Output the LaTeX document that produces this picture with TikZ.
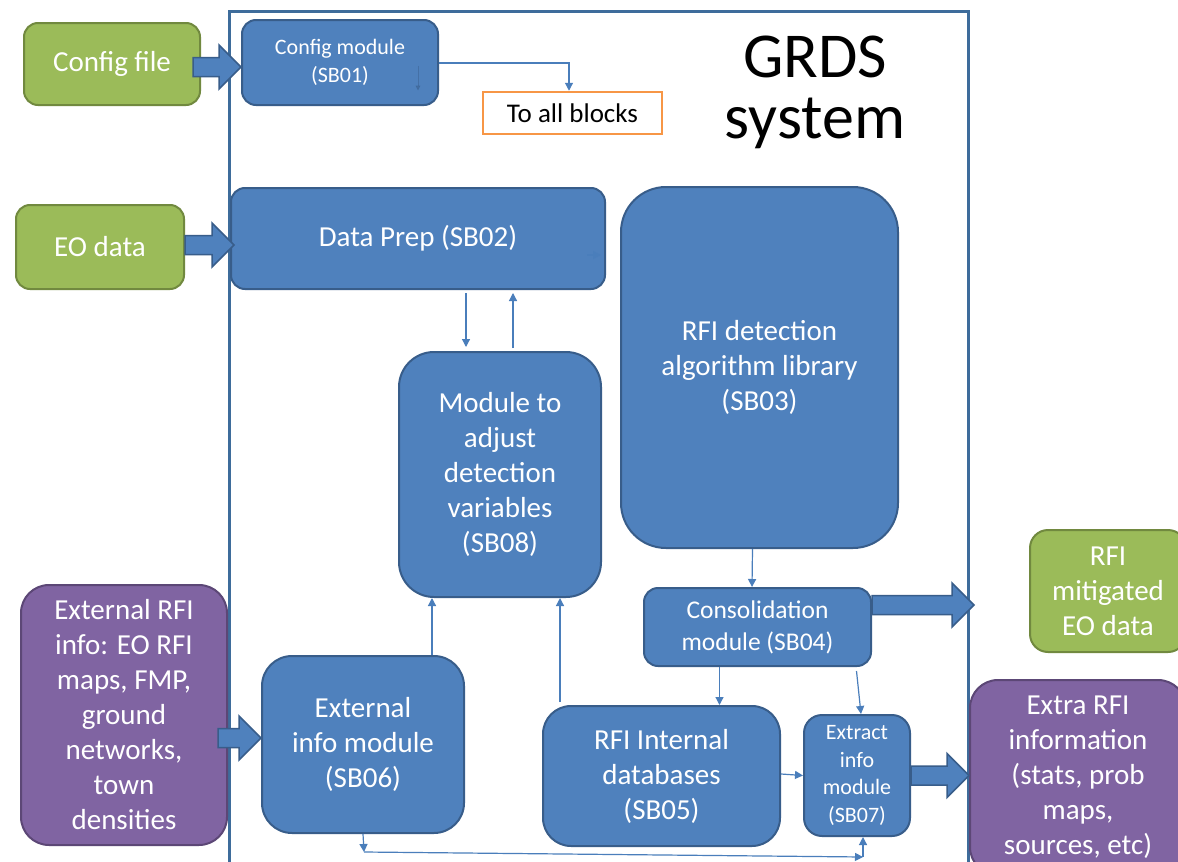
\documentclass[tikz,border=0pt]{standalone}
\usepackage{fontspec}
\setmainfont{Carlito}
\usetikzlibrary{arrows.meta,calc}

\definecolor{blu}{HTML}{4F81BD}
\definecolor{blubd}{HTML}{385D8A}
\definecolor{grn}{HTML}{9BBB59}
\definecolor{grnbd}{HTML}{71893F}
\definecolor{pur}{HTML}{8064A2}
\definecolor{purbd}{HTML}{5C4776}
\definecolor{org}{HTML}{F79646}
\definecolor{frame}{HTML}{3E6C9B}
\definecolor{wire}{HTML}{4A7EBB}

\begin{document}
\begin{tikzpicture}[x=1pt,y=-1pt,
  box/.style={rectangle,inner sep=0pt,align=center,line width=2pt,text=white},
  blk/.style={box,fill=blu,draw=blubd},
  gbox/.style={box,fill=grn,draw=grnbd},
  pbox/.style={box,fill=pur,draw=purbd},
  big/.style={font=\fontsize{29}{35}\selectfont},
  mid/.style={font=\fontsize{25.5}{32}\selectfont},
  small/.style={font=\fontsize{22}{27.5}\selectfont},
  conn/.style={draw=wire,line width=1.2pt,-{Triangle[length=8pt,width=8pt]}},
  fat/.style={fill=blu,draw=blubd,line width=1.5pt,
    to path={let \p1=(\tikztostart),\p2=(\tikztotarget) in
      (\x1,\y1-9.5pt) -- (\x2-22pt,\y1-9.5pt) -- (\x2-22pt,\y1-22pt) -- (\x2,\y1)
      -- (\x2-22pt,\y1+22pt) -- (\x2-22pt,\y1+9.5pt) -- (\x1,\y1+9.5pt) -- cycle}},
]
\clip (0,0) rectangle (1178,862);
\fill[white] (0,0) rectangle (1178,862);

% system boundary
\draw[frame,line width=3pt] (229,11) rectangle (968,890);
\node[align=center,font=\fontsize{64}{61}\selectfont] (title) at (815,92) {GRDS\\system};

% inputs and outputs
\node[gbox,big,minimum width=176,minimum height=82,rounded corners=14pt] (cfgfile) at (112,64) {Config file};
\node[gbox,big,minimum width=168,minimum height=84,rounded corners=14pt] (eodata) at (100,247) {EO data};
\node[pbox,big,minimum width=206,minimum height=260,rounded corners=28pt] (extrfi) at (124,715)
  {External RFI\\info: EO RFI\\maps, FMP,\\ground\\networks,\\town\\densities};
\node[gbox,big,minimum width=156,minimum height=122,rounded corners=18pt] (mitig) at (1108,591)
  {RFI\\mitigated\\EO data};
\node[pbox,big,minimum width=216,minimum height=195,rounded corners=28pt] (extra) at (1078,777.5)
  {Extra RFI\\information\\(stats, prob\\maps,\\sources, etc)};

% system blocks
\node[blk,small,minimum width=196,minimum height=85,rounded corners=14pt] (cfgmod) at (340,62.5)
  {Config module\\(SB01)};
\node[box,draw=org,fill=white,text=black,line width=2.5pt,font=\fontsize{27}{32}\selectfont,
  minimum width=179,minimum height=42] (toall) at (572.5,113) {To all blocks};
\node[blk,big,minimum width=374,minimum height=101,rounded corners=14pt] (prep) at (418,238.5)
  {Data Prep (SB02)};
\node[blk,big,minimum width=277,minimum height=361,rounded corners=45pt] (det) at (759.5,367.5)
  {RFI detection\\algorithm library\\(SB03)};
\node[blk,big,minimum width=202,minimum height=245,rounded corners=35pt] (adj) at (500,474.5)
  {Module to\\adjust\\detection\\variables\\(SB08)};
\node[blk,mid,minimum width=227,minimum height=78,rounded corners=14pt] (cons) at (757.5,627)
  {Consolidation\\module (SB04)};
\node[blk,big,minimum width=202,minimum height=177,rounded corners=30pt] (extinfo) at (363,744.5)
  {External\\info module\\(SB06)};
\node[blk,big,minimum width=237,minimum height=140,rounded corners=28pt] (rfiint) at (661.5,776)
  {RFI Internal\\databases\\(SB05)};
\node[blk,small,minimum width=106,minimum height=121,rounded corners=18pt] (ext) at (857,775.5)
  {Extract\\info\\module\\(SB07)};

% block arrows
\draw[fat] ([shift={(-8,3)}]cfgfile.east) to (cfgmod.west);
\draw[fat] ([shift={(0,-2)}]eodata.east) to ([shift={(4,0)}]prep.west);
\draw[fat] ([shift={(-10,23)}]extrfi.east) to (extinfo.west);
\draw[fat] ([shift={(0,-22)}]cons.east) to ([shift={(-55,0)}]mitig.west);
\draw[fat] (ext.east) to (extra.west);

% thin connectors
\draw[draw=blubd,opacity=0.45,line width=0.8pt,-{Triangle[length=5pt,width=5pt]}]
  ([shift={(-21,3)}]cfgmod.east) -- ([shift={(-21,28)}]cfgmod.east);
\draw[conn] ([shift={(0,0.5)}]cfgmod.east) -| ([shift={(-3.5,0)}]toall.north);
\draw[conn] ([shift={(-19,16.5)}]prep.east) -- ([shift={(-19,16.5)}]prep.east -| det.west);
\draw[conn] ([shift={(-34,3)}]adj.north |- prep.south) -- ([shift={(-34,-4)}]adj.north);
\draw[conn] ([shift={(13,-3)}]adj.north) -- ([shift={(13,3)}]adj.north |- prep.south);
\draw[conn] ([shift={(-7,0)}]det.south) -- ([shift={(-5.5,0)}]cons.north);
\draw[conn] ([shift={(-38,0)}]cons.south) -- ([shift={(-38,0)}]cons.south |- rfiint.north);
\draw[conn] ([shift={(99,4)}]cons.south) -- ([shift={(4,0)}]ext.north);
\draw[conn] ([shift={(0,-2)}]rfiint.east) -- (ext.west);
\draw[conn] ([shift={(69,0)}]extinfo.north) -- ([shift={(69,0)}]extinfo.north |- adj.south);
\draw[conn] ([shift={(-101.5,-3)}]rfiint.north) -- ([shift={(-101.5,0)}]rfiint.north |- adj.south);

% bottom return path
\coordinate (b1) at (364,852);
\coordinate (b2) at (863,857);
\draw[conn] (extinfo.south) -- (b1);
\draw[conn] (b1) -- (b2);
\draw[conn] (b2) -- (b2 |- ext.south);
\end{tikzpicture}
\end{document}
